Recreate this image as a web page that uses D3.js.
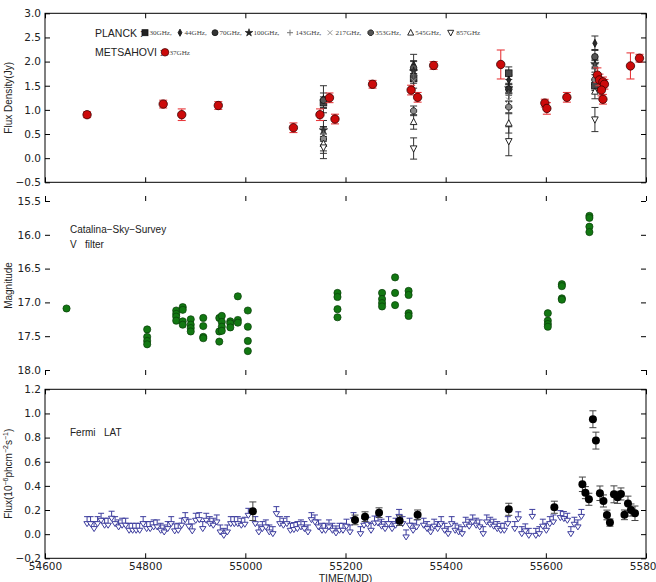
<!DOCTYPE html>
<html><head><meta charset="utf-8">
<script src="https://cdn.jsdelivr.net/npm/d3@7"></script>
<style>body{margin:0;background:#fff} svg{display:block}</style>
</head><body><svg id="c" width="656" height="582"></svg>
<script>
// ---------------- DATA ----------------
const xTicks = [54600,54800,55000,55200,55400,55600,55800];
const radioTicks = [-0.5,0,0.5,1.0,1.5,2.0,2.5,3.0];
const magTicks = [15.5,16.0,16.5,17.0,17.5,18.0];
const fermiTicks = [-0.2,0,0.2,0.4,0.6,0.8,1.0,1.2];

// Metsahovi 37 GHz
const metsMJD  = [54684,54836,54873,54946,55096,55149,55168,55179,55254,55331,55344,55376,55510,55598,55602,55642,55703,55707,55714,55717,55711,55714,55769,55787];
const metsFlux = [0.90,1.12,0.90,1.09,0.63,0.90,1.25,0.81,1.53,1.41,1.26,1.92,1.94,1.14,1.03,1.26,1.72,1.62,1.58,1.53,1.41,1.22,1.91,2.07];
const metsErr  = [0.06,0.08,0.12,0.08,0.10,0.12,0.10,0.10,0.08,0.10,0.10,0.08,0.30,0.08,0.12,0.10,0.15,0.12,0.10,0.10,0.12,0.10,0.27,0.08];

// Planck
const planckLabels = ["30GHz,","44GHz,","70GHz,","100GHz,","143GHz,","217GHz,","353GHz,","545GHz,","857GHz"];
const planckMJD = [55156,55336,55526,55698];
const planckFlux = [
  [1.15,1.65,1.76,1.50],
  [1.22,1.93,1.62,2.38],
  [1.20,1.87,1.43,2.10],
  [0.58,1.80,1.45,1.95],
  [0.50,1.72,1.30,1.90],
  [0.45,1.60,1.20,1.75],
  [0.40,0.98,1.06,1.63],
  [0.30,0.75,0.72,1.38],
  [0.22,0.20,0.35,0.80]
];
const planckErr = [
  [0.12,0.10,0.13,0.10],
  [0.28,0.22,0.10,0.15],
  [0.15,0.15,0.10,0.15],
  [0.20,0.20,0.10,0.10],
  [0.15,0.12,0.12,0.12],
  [0.20,0.15,0.15,0.12],
  [0.25,0.10,0.12,0.10],
  [0.20,0.15,0.20,0.15],
  [0.23,0.22,0.30,0.25]
];

// Catalina Sky Survey V
const catMJD = [54643,
 54804,54804,54804,54804,
 54862,54862,54862,54862,
 54875,54875,54875,54875,
 54891,54891,54891,54891,
 54916,54916,54916,54916,
 54948,54948,54948,
 54953,54953,54953,54953,
 54970,54970,54970,
 54985,54985,54985,
 55005,55005,55005,55005,
 55184,55184,55184,55184,
 55273,55273,55273,55273,
 55299,55299,55299,
 55326,55326,55326,55326,
 55604,55604,55604,55604,
 55632,55632,55632,55632,
 55687,55687,55687,55687];
const catMag = [17.09,
 17.40,17.51,17.57,17.62,
 17.12,17.17,17.21,17.27,
 17.07,17.11,17.28,17.33,
 17.25,17.33,17.38,17.43,
 17.23,17.35,17.51,17.53,
 17.23,17.43,17.58,
 17.20,17.29,17.36,17.42,
 17.28,17.31,17.37,
 16.91,17.26,17.30,
 17.12,17.36,17.57,17.72,
 16.86,16.92,17.10,17.22,
 16.86,16.95,17.01,17.06,
 16.63,16.86,17.04,
 16.83,16.89,17.16,17.20,
 17.16,17.27,17.32,17.36,
 16.73,16.76,16.94,16.96,
 15.72,15.75,15.88,15.96];
const catErr = [0.03,
 0.03,0.03,0.03,0.03, 0.03,0.03,0.03,0.03, 0.04,0.03,0.03,0.03, 0.03,0.03,0.03,0.03,
 0.03,0.03,0.03,0.03, 0.03,0.03,0.03, 0.03,0.03,0.03,0.03, 0.03,0.03,0.03,
 0.04,0.04,0.03, 0.03,0.03,0.03,0.03, 0.03,0.03,0.03,0.03, 0.03,0.03,0.03,0.03,
 0.03,0.03,0.03, 0.03,0.03,0.03,0.03, 0.03,0.03,0.03,0.03, 0.03,0.03,0.03,0.03,
 0.03,0.03,0.03,0.03];

// Fermi LAT detections
const fermiMJD  = [55015,55219,55239,55267,55308,55344,55526,55617,55673,55679,55686,55694,55700,55708,55715,55722,55728,55736,55743,55750,55757,55764,55770,55778];
const fermiFlux = [0.190,0.118,0.145,0.178,0.112,0.160,0.206,0.223,0.413,0.344,0.289,0.952,0.775,0.339,0.275,0.159,0.096,0.330,0.305,0.333,0.160,0.255,0.200,0.173];
const fermiErr  = [0.077,0.040,0.040,0.040,0.040,0.040,0.050,0.050,0.060,0.050,0.050,0.070,0.070,0.060,0.050,0.040,0.030,0.070,0.050,0.050,0.040,0.060,0.050,0.060];

// Fermi LAT upper limits (weekly)
const ulMJD = [54684,54691,54698,54705,54712,54719,54726,54733,54740,54747,
 54754,54761,54768,54775,54782,54789,54796,54803,54810,54817,
 54824,54831,54838,54845,54852,54859,54866,54873,54880,54887,
 54894,54901,54908,54915,54922,54929,54936,54943,54950,54957,
 54964,54971,54978,54985,54992,54999,55006,55020,55027,
 55034,55041,55048,55055,55062,55069,55076,55083,55090,55097,
 55104,55111,55118,55125,55132,55139,55146,55153,55160,55167,
 55174,55181,55188,55195,55202,55209,55216,55230,55237,
 55244,55251,55258,55265,55272,55279,55286,55293,55300,55307,
 55314,55321,55328,55335,55342,55356,55363,55370,55377,
 55384,55391,55398,55405,55412,55419,55426,55433,55440,55447,
 55454,55461,55468,55475,55482,55489,55496,55503,55510,55517,
 55524,55538,55545,55552,55559,55566,55573,55580,55587,
 55594,55601,55608,55615,55629,55636,55643,55650,55657,55664,55671];
const ulFlux = [0.145,0.145,0.104,0.145,0.173,0.132,0.132,0.190,0.145,0.118,
 0.132,0.132,0.090,0.090,0.090,0.090,0.145,0.104,0.104,0.118,
 0.118,0.090,0.076,0.104,0.145,0.085,0.090,0.132,0.178,0.124,
 0.085,0.173,0.178,0.104,0.173,0.145,0.132,0.159,0.076,0.048,
 0.076,0.145,0.145,0.145,0.132,0.140,0.214,0.145,0.076,
 0.104,0.118,0.076,0.062,0.228,0.145,0.132,0.145,0.090,0.096,
 0.104,0.118,0.104,0.076,0.178,0.159,0.118,0.090,0.090,0.118,
 0.090,0.068,0.090,0.090,0.124,0.076,0.178,0.062,0.132,
 0.140,0.090,0.150,0.150,0.124,0.104,0.145,0.104,0.132,0.205,
 0.145,0.035,0.132,0.090,0.118,0.132,0.104,0.076,0.124,
 0.104,0.145,0.090,0.062,0.145,0.090,0.076,0.062,0.140,0.124,
 0.159,0.132,0.118,0.062,0.159,0.140,0.124,0.104,0.090,0.090,
 0.145,0.104,0.185,0.062,0.085,0.048,0.205,0.048,0.062,
 0.124,0.090,0.145,0.159,0.195,0.187,0.173,0.062,0.140,0.118,0.205];

// ---------------- DRAW ----------------
const SANS = "'Liberation Sans', Arial, sans-serif";
const TICKF = "'DejaVu Sans', sans-serif";
const SERIF = "'Liberation Serif', 'DejaVu Serif', serif";
const svg = d3.select("#c");
const L = 45, R = 646;
const x = d3.scaleLinear().domain([54600,55800]).range([L,R]);
const yTop = d3.scaleLinear().domain([-0.5,3.0]).range([182.3,13.3]);
const yMid = d3.scaleLinear().domain([15.5,18.0]).range([201,370]);
const yBot = d3.scaleLinear().domain([-0.2,1.2]).range([558.3,389.3]);
const fmt1 = d3.format(".1f");

function frame(y, ticks, showX){
  const [b,t] = y.range();
  const g = svg.append("g");
  const ax = (sel)=>{sel.select(".domain").remove(); sel.selectAll("line").attr("stroke","#000");
    sel.selectAll("text").style("font-size","10.5px").style("font-family",TICKF).attr("fill","#222");};
  g.append("g").attr("transform",`translate(${L},0)`).call(d3.axisLeft(y).tickValues(ticks).tickFormat(fmt1).tickSize(-5).tickPadding(4)).call(ax);
  g.append("g").attr("transform",`translate(${R},0)`).call(d3.axisRight(y).tickValues(ticks).tickFormat("").tickSize(-5)).call(ax);
  g.append("g").attr("transform",`translate(0,${t})`).call(d3.axisTop(x).tickValues(xTicks).tickFormat("").tickSize(-5)).call(ax);
  g.append("g").attr("transform",`translate(0,${b})`).call(d3.axisBottom(x).tickValues(xTicks).tickFormat(showX? d3.format("d"):"").tickSize(-5).tickPadding(4)).call(ax);
  g.append("rect").attr("x",L).attr("y",t).attr("width",R-L).attr("height",b-t).attr("fill","none").attr("stroke","#000").attr("stroke-width",1);
}
frame(yTop, radioTicks, false);
frame(yMid, magTicks, false);
frame(yBot, fermiTicks, true);

function errbar(g, cx, y1, y2, color, cap, w){
  g.append("line").attr("x1",cx).attr("x2",cx).attr("y1",y1).attr("y2",y2).attr("stroke",color).attr("stroke-width",w||1);
  [y1,y2].forEach(yy=>g.append("line").attr("x1",cx-cap).attr("x2",cx+cap).attr("y1",yy).attr("y2",yy).attr("stroke",color).attr("stroke-width",w||1));
}

function marker(g, k, cx, cy, s, fill){
  const st = "#111";
  if(k===0){ g.append("rect").attr("x",cx-s).attr("y",cy-s).attr("width",2*s).attr("height",2*s).attr("fill",fill).attr("stroke",st).attr("stroke-width",0.8); }
  else if(k===1){ g.append("path").attr("d",`M${cx},${cy-s*1.2}L${cx+s*0.65},${cy}L${cx},${cy+s*1.2}L${cx-s*0.65},${cy}Z`).attr("fill",fill).attr("stroke",st).attr("stroke-width",0.8); }
  else if(k===2){ g.append("circle").attr("cx",cx).attr("cy",cy).attr("r",s).attr("fill",fill).attr("stroke",st).attr("stroke-width",0.8); }
  else if(k===3){ g.append("path").attr("d",d3.symbol().type(d3.symbolStar).size(s*s*2.0)()).attr("transform",`translate(${cx},${cy})`).attr("fill",fill).attr("stroke",st).attr("stroke-width",0.6); }
  else if(k===4){ g.append("path").attr("d",`M${cx-s},${cy}H${cx+s}M${cx},${cy-s}V${cy+s}`).attr("stroke",fill).attr("stroke-width",1).attr("fill","none"); }
  else if(k===5){ const d=s*0.8; g.append("path").attr("d",`M${cx-d},${cy-d}L${cx+d},${cy+d}M${cx-d},${cy+d}L${cx+d},${cy-d}`).attr("stroke",fill).attr("stroke-width",1).attr("fill","none"); }
  else if(k===6){ const pts=d3.range(8).map(i=>{const a=Math.PI/8+i*Math.PI/4;return [cx+s*Math.cos(a),cy+s*Math.sin(a)];});
    g.append("path").attr("d","M"+pts.map(p=>p.join(",")).join("L")+"Z").attr("fill",fill).attr("stroke",st).attr("stroke-width",0.8); }
  else if(k===7){ g.append("path").attr("d",`M${cx},${cy-s*1.1}L${cx+s},${cy+s*0.8}L${cx-s},${cy+s*0.8}Z`).attr("fill",fill).attr("stroke",st).attr("stroke-width",0.9); }
  else if(k===8){ g.append("path").attr("d",`M${cx},${cy+s*1.1}L${cx+s},${cy-s*0.8}L${cx-s},${cy-s*0.8}Z`).attr("fill",fill).attr("stroke",st).attr("stroke-width",0.9); }
}
const planckFill = ["#484848","#2a2a2a","#555","#333","#666","#999","#8a8a8a","#fff","#fff"];
const legendFill = ["#222","#222","#333","#222","#777","#999","#555","#fff","#fff"];

function txt(g, xx, yy, size, s, fam){
  return g.append("text").attr("x",xx).attr("y",yy).attr("fill","#222")
    .style("font-size",size+"px").style("font-family",fam||SANS).style("white-space","pre").text(s);
}

// ---- top panel ----
const gT = svg.append("g");
planckMJD.forEach((m,j)=>{
  planckFlux.forEach((arr,k)=>{
    errbar(gT, x(m), yTop(arr[j]+planckErr[k][j]), yTop(arr[j]-planckErr[k][j]), "#333", 3.5, 1);
  });
});
planckMJD.forEach((m,j)=>{
  planckFlux.forEach((arr,k)=>{ marker(gT, k, x(m), yTop(arr[j]), 3.3, planckFill[k]); });
});
metsMJD.forEach((m,i)=>{
  errbar(gT, x(m), yTop(metsFlux[i]+metsErr[i]), yTop(metsFlux[i]-metsErr[i]), "#e8393c", 4, 1.1);
});
metsMJD.forEach((m,i)=>{
  gT.append("circle").attr("cx",x(m)).attr("cy",yTop(metsFlux[i])).attr("r",4.2).attr("fill","#cc0a0a").attr("stroke","#3a0000").attr("stroke-width",0.8);
});

// legend
const gl = svg.append("g");
txt(gl, 95, 36.5, 10.5, "PLANCK :");
const legX = [145,180,215,249,290,330,370.7,410.7,450.7];
planckLabels.forEach((lab,k)=>{
  marker(gl, k, legX[k], 32.7, 3.0, legendFill[k]);
  txt(gl, legX[k]+(k===4||k===5||k===8?5.5:4.5), 35.2, 7.1, lab, SERIF).attr("fill","#444");
});
txt(gl, 95, 56.2, 10.5, "METSAHOVI :");
gl.append("circle").attr("cx",165).attr("cy",52.3).attr("r",3.8).attr("fill","#cc0a0a").attr("stroke","#3a0000").attr("stroke-width",0.7);
txt(gl, 169.5, 55, 7.1, "37GHz", SERIF).attr("fill","#444");

// ---- middle panel ----
const gM = svg.append("g");
catMJD.forEach((m,i)=>{
  errbar(gM, x(m), yMid(catMag[i]-catErr[i]), yMid(catMag[i]+catErr[i]), "#7fd27f", 3, 1);
});
catMJD.forEach((m,i)=>{
  gM.append("circle").attr("cx",x(m)).attr("cy",yMid(catMag[i])).attr("r",3.6).attr("fill","#127812").attr("stroke","#0a3d0a").attr("stroke-width",0.7);
});
txt(gM, 70, 232.5, 10, "Catalina\u2212Sky\u2212Survey");
txt(gM, 70, 247.5, 10, "V   filter");

// ---- bottom panel ----
const gB = svg.append("g");
const ulc = "#3d3d9e";
ulMJD.forEach((m,i)=>{
  const cx = x(m), cy = yBot(ulFlux[i]);
  gB.append("line").attr("x1",cx-3).attr("x2",cx+3).attr("y1",cy).attr("y2",cy).attr("stroke",ulc).attr("stroke-width",1);
  gB.append("line").attr("x1",cx).attr("x2",cx).attr("y1",cy).attr("y2",cy+6).attr("stroke",ulc).attr("stroke-width",1);
  gB.append("path").attr("d",`M${cx-3.2},${cy+5}L${cx+3.2},${cy+5}L${cx},${cy+10}Z`).attr("fill","#fff").attr("stroke",ulc).attr("stroke-width",1);
});
fermiMJD.forEach((m,i)=>{
  errbar(gB, x(m), yBot(fermiFlux[i]+fermiErr[i]), yBot(fermiFlux[i]-fermiErr[i]), "#444", 3.5, 1);
});
fermiMJD.forEach((m,i)=>{
  gB.append("circle").attr("cx",x(m)).attr("cy",yBot(fermiFlux[i])).attr("r",4).attr("fill","#000");
});
txt(gB, 70, 436, 10, "Fermi   LAT");

// axis labels
function vlabel(cy, s){
  return svg.append("text").attr("transform",`translate(12,${cy}) rotate(-90)`).attr("text-anchor","middle").attr("fill","#222")
    .style("font-size","10px").style("font-family",SANS).text(s);
}
vlabel((13.3+182.3)/2, "Flux Density(Jy)");
vlabel((201+370)/2, "Magnitude");
const fl = vlabel((389.3+558.3)/2, null);
fl.append("tspan").text("Flux(10");
fl.append("tspan").style("font-size","7px").attr("dy",-4).text("\u22126");
fl.append("tspan").attr("dy",4).text("phcm");
fl.append("tspan").style("font-size","7px").attr("dy",-4).text("\u22122");
fl.append("tspan").attr("dy",4).text("s");
fl.append("tspan").style("font-size","7px").attr("dy",-4).text("\u22121");
fl.append("tspan").attr("dy",4).text(")");
svg.append("text").attr("x",(L+R)/2).attr("y",582).attr("text-anchor","middle").attr("fill","#222")
  .style("font-size","10.5px").style("font-family",SANS).text("TIME(MJD)");
</script></body></html>
